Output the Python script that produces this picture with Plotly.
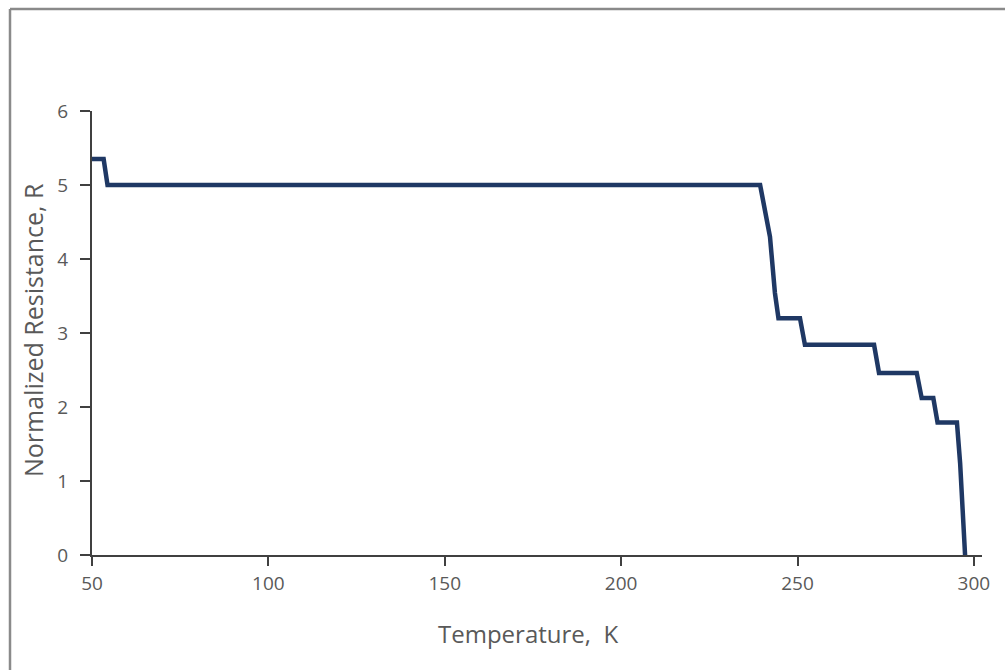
import plotly.graph_objects as go

# Data
temperature_K = [50.0, 53.3, 54.4, 239.4, 242.2, 243.6, 244.6, 250.7, 252.1, 271.7,
                 273.1, 283.8, 285.2, 288.5, 289.7, 295.2, 296.1, 297.5]
resistance_R = [5.35, 5.35, 5.0, 5.0, 4.3, 3.54, 3.2, 3.2, 2.84, 2.84,
                2.46, 2.46, 2.12, 2.12, 1.79, 1.79, 1.24, 0.0]

x_ticks = [50, 100, 150, 200, 250, 300]
y_ticks = [0, 1, 2, 3, 4, 5, 6]
x_title = "Temperature,  K"
y_title = "Normalized Resistance, R"

W, H = 1005, 670
L, R, T, B = 92, 23, 111, 115
pw, ph = W - L - R, H - T - B

def px(x):
    return (x - L) / pw

def py(y):
    return (H - B - y) / ph

fig = go.Figure()
fig.add_trace(go.Scatter(
    x=temperature_K, y=resistance_R, mode="lines",
    line=dict(color="#1F3864", width=4.5),
    hoverinfo="x+y", showlegend=False,
))

font_family = "Open Sans, Noto Sans, sans-serif"
grey = "#595959"

fig.update_layout(
    width=W, height=H,
    margin=dict(l=L, r=R, t=T, b=B, pad=0),
    paper_bgcolor="white", plot_bgcolor="white",
    font=dict(family=font_family, size=19, color=grey),
    xaxis=dict(
        range=[50, 302.3], tickvals=x_ticks, ticktext=[str(v) for v in x_ticks],
        showgrid=False, zeroline=False, showline=True, linecolor="#404040", linewidth=2,
        ticks="outside", ticklen=9, tickwidth=1.5, tickcolor="#404040",
        ticklabelstandoff=1,
        tickfont=dict(size=19, color=grey),
    ),
    yaxis=dict(
        range=[0, 6], tickvals=y_ticks, ticktext=[str(v) for v in y_ticks],
        showgrid=False, zeroline=False, showline=True, linecolor="#404040", linewidth=2,
        ticks="outside", ticklen=10, tickwidth=1.5, tickcolor="#404040",
        ticklabelstandoff=8,
        tickfont=dict(size=19, color=grey),
    ),
    annotations=[
        dict(text=x_title, xref="paper", yref="paper", x=px(528), y=py(633),
             xanchor="center", yanchor="middle", showarrow=False,
             font=dict(size=24, color=grey)),
        dict(text=y_title, xref="paper", yref="paper", x=px(33), y=py(330),
             xanchor="center", yanchor="middle", showarrow=False, textangle=-90,
             font=dict(size=25, color=grey)),
    ],
    shapes=[
        dict(type="line", xref="paper", yref="paper",
             x0=px(10), x1=px(W + 5), y0=py(9), y1=py(9),
             line=dict(color="#8a8a8a", width=2.5)),
        dict(type="line", xref="paper", yref="paper",
             x0=px(10), x1=px(10), y0=py(9), y1=py(H + 5),
             line=dict(color="#8a8a8a", width=2.5)),
    ],
)

fig.write_html("out.html")
